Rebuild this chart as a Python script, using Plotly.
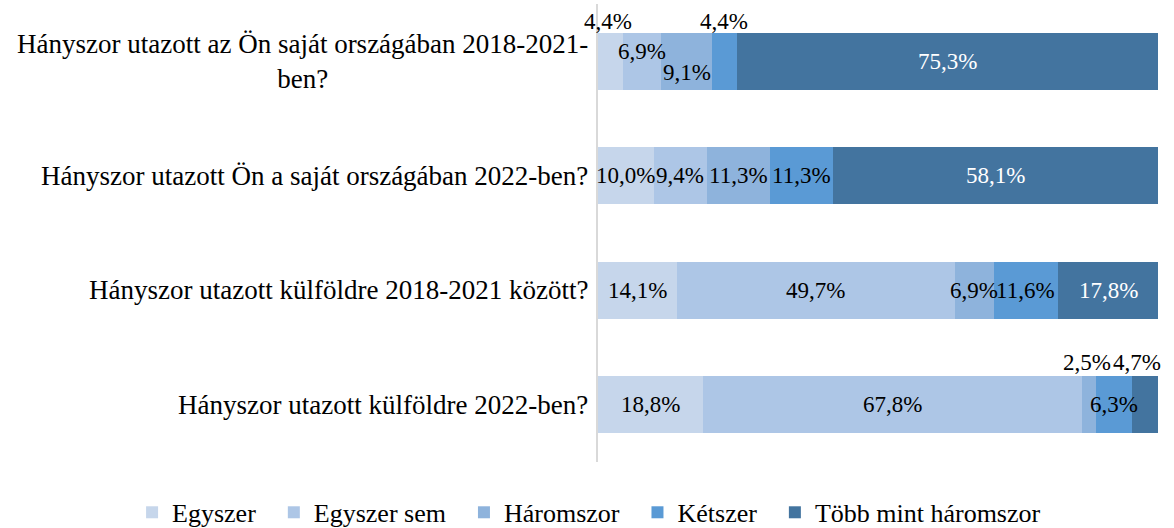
import plotly.graph_objects as go

categories = [
    "Hányszor utazott az Ön saját országában 2018-2021-<br>ben?",
    "Hányszor utazott Ön a saját országában 2022-ben?",
    "Hányszor utazott külföldre 2018-2021 között?",
    "Hányszor utazott külföldre 2022-ben?",
]
series_names = ["Egyszer", "Egyszer sem", "Háromszor", "Kétszer", "Több mint háromszor"]
egyszer = [4.4, 10.0, 14.1, 18.8]
egyszer_sem = [6.9, 9.4, 49.7, 67.8]
haromszor = [9.1, 11.3, 6.9, 2.5]
ketszer = [4.4, 11.3, 11.6, 6.3]
tobb = [75.3, 58.1, 17.8, 4.7]

values = [egyszer, egyszer_sem, haromszor, ketszer, tobb]
colors = ["#c6d6eb", "#adc6e6", "#8eb3dc", "#5a9ad5", "#43749f"]
label_colors = ["black", "black", "black", "black", "white"]

# manual label nudges (category index, series index) -> (xshift, yshift) in px
nudges = {
    (0, 0): (-2, 40), (0, 1): (0, 10), (0, 2): (0, -11), (0, 3): (0, 40),
    (3, 2): (-2, 42), (3, 4): (-8, 42),
}
outside = {(0, 0), (0, 3), (3, 2), (3, 4)}

FONT = "Liberation Serif, Times New Roman, serif"
NBSP = "\u00a0"
fig = go.Figure()
for i, (name, vals, col) in enumerate(zip(series_names, values, colors)):
    pad = NBSP * 2 if i < len(series_names) - 1 else ""
    fig.add_trace(go.Bar(
        y=categories, x=vals, name=name + pad, orientation="h",
        marker=dict(color=col, line=dict(width=0)),
        hovertemplate=name + ": %{x}%<extra></extra>",
    ))

annotations = []
for ci, cat in enumerate(categories):
    cum = 0.0
    for si, vals in enumerate(values):
        v = vals[ci]
        xs, ys = nudges.get((ci, si), (0, 0))
        txt_col = "black" if (ci, si) in outside else label_colors[si]
        annotations.append(dict(
            x=cum + v / 2, y=cat, xref="x", yref="y",
            text=f"{v:.1f}%".replace(".", ","), showarrow=False,
            xshift=xs, yshift=ys,
            font=dict(family=FONT, size=23, color=txt_col),
        ))
        cum += v
    annotations.append(dict(
        x=0, y=cat, xref="paper", yref="y", xanchor="right", align="center",
        xshift=-8, text=cat, showarrow=False,
        font=dict(family=FONT, size=27, color="black"),
    ))

fig.update_layout(
    barmode="stack",
    bargap=0.5,
    width=1174, height=528,
    margin=dict(l=598, r=16, t=4, b=66, autoexpand=False),
    paper_bgcolor="white", plot_bgcolor="white",
    font=dict(family=FONT, size=26, color="black"),
    xaxis=dict(range=[0, 100.1], showgrid=False, showticklabels=False,
               zeroline=False, showline=False, fixedrange=True),
    yaxis=dict(autorange="reversed", showticklabels=False, showgrid=False,
               showline=True, linecolor="#d9d9d9", linewidth=2, ticks=""),
    legend=dict(orientation="h", xref="paper", yref="paper",
                x=-0.832, xanchor="left", y=-0.11, yanchor="middle",
                font=dict(family=FONT, size=26), itemwidth=30,
                traceorder="normal", tracegroupgap=0),
    annotations=annotations,
    showlegend=True,
)
fig.write_html("out.html", config={"displayModeBar": False},
               post_script="document.body.style.margin='0';")
